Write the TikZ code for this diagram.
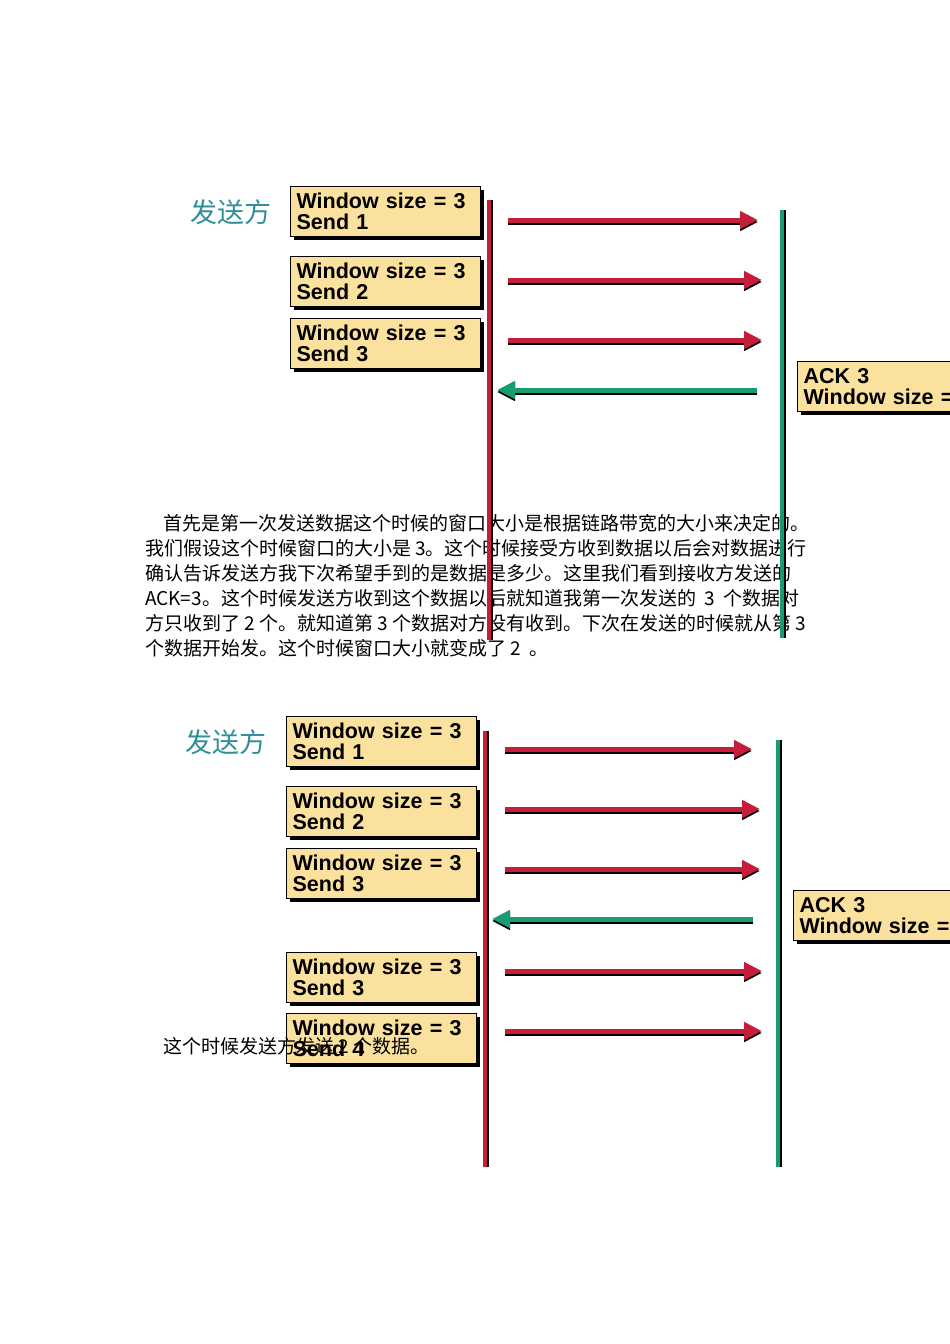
\documentclass[tikz,border=0pt]{standalone}
\usepackage{fontspec}
\setmainfont{Liberation Serif}
\setsansfont{Liberation Sans}
\newfontfamily\cjk{Noto Sans CJK SC}
\usetikzlibrary{arrows.meta}
\definecolor{wred}{HTML}{C41E3A}
\definecolor{wgreen}{HTML}{179B72}
\definecolor{wbox}{HTML}{FBE19E}
\definecolor{wteal}{HTML}{2E8F9A}
\tikzset{
 wbox/.style={draw=black,line width=1.2pt,fill=wbox,anchor=north west,inner xsep=6pt,inner ysep=0pt,
   minimum height=50pt,align=left,font=\sffamily\bfseries\fontsize{21.5}{21}\selectfont,
   text width=178pt},
 redarr/.style={draw=wred,line width=5pt,-{Triangle[length=18pt,width=17pt]}},
 grnarr/.style={draw=wgreen,line width=5pt,-{Triangle[length=18pt,width=17pt]}},
 redline/.style={draw=wred,line width=4pt},
 grnline/.style={draw=wgreen,line width=4pt},
 body/.style={anchor=base west,inner sep=0pt,font=\cjk\fontsize{19}{20}\selectfont},
 label/.style={font=\cjk\fontsize{27}{30}\selectfont,text=wteal},
}
\newcommand{\mybox}[4]{% name, x, y, text
 \fill[black] (#2+4,-#3-4) rectangle (#2+194,-#3-54);
 \node[wbox] (#1) at (#2,-#3) {\rule{0pt}{3pt}#4};
}
\begin{document}
\begin{tikzpicture}[x=1pt,y=1pt]
\useasboundingbox (0,0) rectangle (950,-1344);
\clip (0,0) rectangle (950,-1344);
% body text
\node[body] (t1) at (163,-530) {首先是第一次发送数据这个时候的窗口大小是根据链路带宽的大小来决定的。};
\node[body] (t2) at (145,-555) {我们假设这个时候窗口的大小是 3。这个时候接受方收到数据以后会对数据进行};
\node[body] (t3) at (145,-580) {确认告诉发送方我下次希望手到的是数据是多少。这里我们看到接收方发送的};
\node[body] (t4) at (145,-605) {ACK=3。这个时候发送方收到这个数据以后就知道我第一次发送的\ \ 3\ \ 个数据对};
\node[body] (t5) at (145,-630) {方只收到了 2 个。就知道第 3 个数据对方没有收到。下次在发送的时候就从第 3};
\node[body] (t6) at (145,-655) {个数据开始发。这个时候窗口大小就变成了 2\ \ 。};
% ---- diagram 1
\node[label] (s1) at (231,-212) {发送方};
\mybox{a1}{290}{186}{Window size = 3\\Send 1}
\mybox{a2}{290}{256}{Window size = 3\\Send 2}
\mybox{a3}{290}{318}{Window size = 3\\Send 3}
\mybox{ack1}{797}{361}{ACK 3\\Window size = 2}
\coordinate (L1t) at (489,-200); \coordinate (L1b) at (489,-640);
\coordinate (R1t) at (782,-210); \coordinate (R1b) at (782,-638);
\draw[black,line width=4pt] ([xshift=2pt]L1t) -- ([xshift=2pt]L1b);
\draw[redline] (L1t) -- (L1b);
\draw[black,line width=4pt] ([xshift=2pt]R1t) -- ([xshift=2pt]R1b);
\draw[grnline] (R1t) -- (R1b);
\foreach \y/\e in {220/758,280/762,340/762}{
 \coordinate (p) at (508,-\y); \coordinate (q) at (\e,-\y);
 \draw[redarr,draw=black] ([yshift=-2pt]p) -- ([yshift=-2pt]q);
 \draw[redarr] (p) -- (q);}
\coordinate (g1s) at (757,-390); \coordinate (g1e) at (497,-390);
\draw[grnarr,draw=black] ([yshift=-2pt]g1s) -- ([yshift=-2pt]g1e);
\draw[grnarr] (g1s) -- (g1e);
% ---- diagram 2
\node[label] (s2) at (226,-742) {发送方};
\mybox{b1}{286}{716}{Window size = 3\\Send 1}
\mybox{b2}{286}{786}{Window size = 3\\Send 2}
\mybox{b3}{286}{848}{Window size = 3\\Send 3}
\mybox{b4}{286}{952}{Window size = 3\\Send 3}
\mybox{b5}{286}{1013}{Window size = 3\\Send 4}
\node[body] (t7) at (163,-1053) {这个时候发送方发送 2 个数据。};
\mybox{ack2}{793}{890}{ACK 3\\Window size = 2}
\coordinate (L2t) at (485,-731); \coordinate (L2b) at (485,-1167);
\coordinate (R2t) at (778,-740); \coordinate (R2b) at (778,-1167);
\draw[black,line width=4pt] ([xshift=2pt]L2t) -- ([xshift=2pt]L2b);
\draw[redline] (L2t) -- (L2b);
\draw[black,line width=4pt] ([xshift=2pt]R2t) -- ([xshift=2pt]R2b);
\draw[grnline] (R2t) -- (R2b);
\foreach \y/\e in {749/752,809/760,869/760,971/762,1031/762}{
 \coordinate (p) at (505,-\y); \coordinate (q) at (\e,-\y);
 \draw[redarr,draw=black] ([yshift=-2pt]p) -- ([yshift=-2pt]q);
 \draw[redarr] (p) -- (q);}
\coordinate (g2s) at (753,-919); \coordinate (g2e) at (492,-919);
\draw[grnarr,draw=black] ([yshift=-2pt]g2s) -- ([yshift=-2pt]g2e);
\draw[grnarr] (g2s) -- (g2e);
\end{tikzpicture}
\end{document}
